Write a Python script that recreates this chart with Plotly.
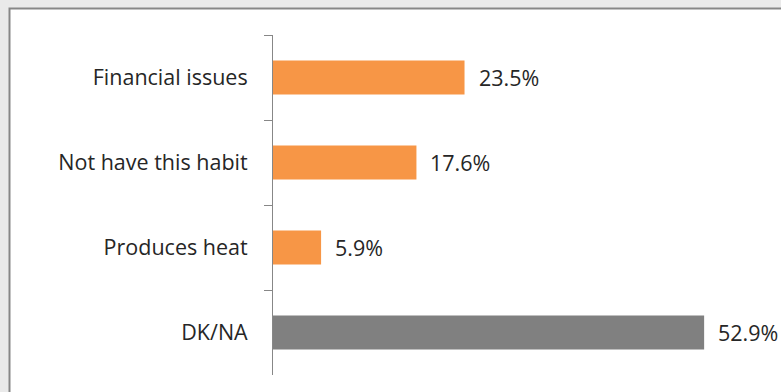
import plotly.graph_objects as go

categories = ["Financial issues", "Not have this habit", "Produces heat", "DK/NA"]
values = [23.5, 17.6, 5.9, 52.9]
labels = ["23.5%", "17.6%", "5.9%", "52.9%"]
colors = ["#F79646", "#F79646", "#F79646", "#808080"]

W, H = 781, 392
L, R, T, B = 273, 19, 35, 17
pw, ph = W - L - R, H - T - B
FONT = "Open Sans"
FS = 21.5

fig = go.Figure()
fig.add_trace(go.Bar(
    y=categories, x=values, orientation="h",
    marker=dict(color=colors, line=dict(width=0)),
    hoverinfo="skip",
))
for c, v, t in zip(categories, values, labels):
    fig.add_annotation(x=v, y=c, text=t, showarrow=False, xanchor="left",
                       xshift=12, font=dict(family=FONT, size=FS, color="#262626"))

def px2x(px):
    return (px - L) / pw

def px2y(py):
    return (H - B - py) / ph

fig.add_shape(type="rect", xref="paper", yref="paper",
              x0=px2x(9.5), x1=px2x(820), y0=px2y(420), y1=px2y(8.5),
              fillcolor="white", line=dict(color="#878787", width=2), layer="below")

fig.update_layout(
    width=W, height=H,
    margin=dict(l=L, r=R, t=T, b=B, pad=0),
    paper_bgcolor="#EAEAEA", plot_bgcolor="rgba(0,0,0,0)",
    font=dict(family=FONT, size=FS, color="#262626"),
    bargap=0.6, showlegend=False,
    xaxis=dict(range=[0, 60], visible=False, fixedrange=True),
    yaxis=dict(autorange=False, range=[3.5, -0.5], type="category",
               categoryorder="array", categoryarray=categories,
               showline=True, linecolor="#878787", linewidth=1,
               ticks="outside", ticklen=8, tickcolor="#878787", tickwidth=1,
               tickson="boundaries", showgrid=False, zeroline=False,
               ticklabelstandoff=20, tickfont=dict(family=FONT, size=FS, color="#262626")),
)
fig.write_html("out.html")
